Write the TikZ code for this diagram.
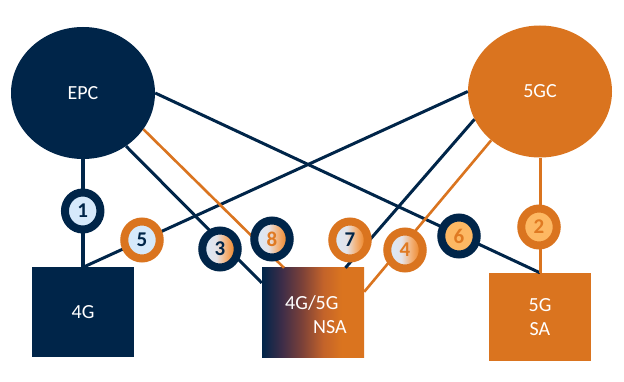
\documentclass[tikz,border=0pt]{standalone}
\usepackage{fontspec}
\setmainfont{Carlito}
\usetikzlibrary{shapes.geometric,calc}
\definecolor{navy}{HTML}{002549}
\definecolor{orng}{HTML}{DA741F}
\definecolor{lblue}{HTML}{D6E9FB}
\definecolor{lorng}{HTML}{FDB863}
\definecolor{numorng}{HTML}{E07A22}
\definecolor{mauveA}{HTML}{3F2D48}
\definecolor{brownA}{HTML}{7E4238}
\definecolor{orngA}{HTML}{C3632A}
\definecolor{gradA}{HTML}{E4E3E8}
\definecolor{gradB}{HTML}{F3B27A}
\definecolor{gradC}{HTML}{EE8A30}
\pgfdeclarehorizontalshading{nsagrad}{100bp}{color(0bp)=(navy); color(25bp)=(navy); color(35bp)=(mauveA); color(45bp)=(brownA); color(55bp)=(orngA); color(64bp)=(orng); color(100bp)=(orng)}
\pgfdeclarehorizontalshading{badgegrad}{100bp}{color(0bp)=(lblue); color(25bp)=(lblue); color(45bp)=(gradA); color(58bp)=(gradB); color(70bp)=(gradC); color(100bp)=(gradC)}
\tikzset{
  core/.style={ellipse, inner sep=0pt, minimum width=144pt, minimum height=132pt, text=white, font=\fontsize{20}{24}\selectfont},
  ran/.style={rectangle, inner sep=0pt, minimum width=102pt, minimum height=89pt, text=white, font=\fontsize{20}{24}\selectfont, align=center},
  navyline/.style={draw=navy, line width=3pt},
  orngline/.style={draw=orng, line width=2.6pt},
  badge/.style={ellipse, inner sep=0pt, minimum width=35.5pt, minimum height=37pt, line width=8pt, font=\bfseries\fontsize{21}{21}\selectfont},
  gradfill/.style={shade, shading=badgegrad}
}
\begin{document}
\begin{tikzpicture}[x=1pt,y=-1pt]
\useasboundingbox[fill=white] (0,0) rectangle (624,382);
% cores
\node[core, fill=navy] (epc) at (83,93) {EPC};
\node[core, fill=orng] (gc) at (540,91.5) {5GC};
% access nodes
\node[ran, fill=navy] (g4) at (83,312) {4G};
\node[ran, shade, shading=nsagrad] (nsa) at (313,312.5) {};
\node[text=white, font=\fontsize{20}{24}\selectfont, align=left, inner sep=0pt] (nsatxt) at (316,314.5) {4G/5G\\\hspace*{28pt}NSA};
\node[ran, fill=orng, minimum height=88pt] (sa) at (540,317) {5G\\SA};
% connectors
\draw[navyline, line width=4pt] (epc.south) -- (g4.north);
\draw[navyline] (g4.north) -- (gc.west);
\draw[navyline] (epc.-51) -- (nsa.150);
\draw[orngline] (epc.-31) -- (nsa.123);
\draw[navyline] (epc.east) -- (sa.north);
\draw[navyline] (gc.203) -- (nsa.54);
\draw[orngline] (gc.225) -- (nsa.22);
\draw[orngline, line width=3pt] (gc.south) -- (sa.north);
% badges
\node[badge, draw=navy, fill=lblue, text=navy] (b1) at (82.7,211) {1};
\node[badge, draw=orng, fill=lblue, text=navy] (b5) at (142,240) {5};
\node[badge, draw=navy, gradfill, text=navy] (b3) at (220,249) {3};
\node[badge, draw=navy, gradfill, text=numorng] (b8) at (272,239) {8};
\node[badge, draw=orng, gradfill, text=navy] (b7) at (350,240) {7};
\node[badge, draw=orng, gradfill, text=numorng] (b4) at (405,250) {4};
\node[badge, draw=navy, fill=lorng, text=numorng] (b6) at (459,236) {6};
\node[badge, draw=orng, fill=lorng, text=numorng] (b2) at (539,227) {2};
\end{tikzpicture}
\end{document}
